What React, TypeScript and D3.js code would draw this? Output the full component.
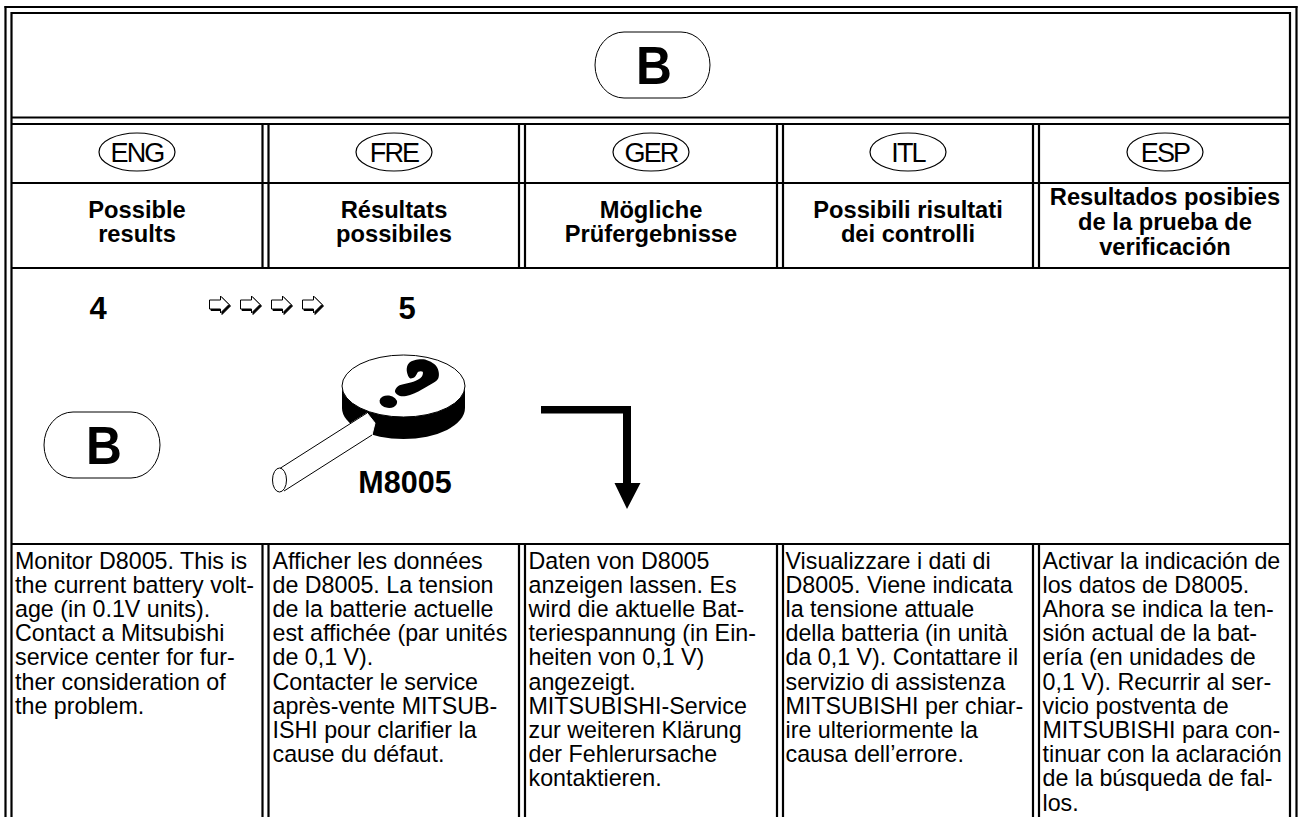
import React from "react";
import * as d3 from "d3";

const WIDTH = 1299;
const HEIGHT = 817;
const FONT = "'Liberation Sans', Arial, sans-serif";

const languages = ["ENG", "FRE", "GER", "ITL", "ESP"];
const headings = [
  ["Possible", "results"],
  ["Résultats", "possibiles"],
  ["Mögliche", "Prüfergebnisse"],
  ["Possibili risultati", "dei controlli"],
  ["Resultados posibies", "de la prueba de", "verificación"],
];
const bodies = [
  ["Monitor D8005. This is", "the current battery volt-", "age (in 0.1V units).", "Contact a Mitsubishi", "service center for fur-", "ther consideration of", "the problem."],
  ["Afficher les données", "de D8005. La tension", "de la batterie actuelle", "est affichée (par unités", "de 0,1 V).", "Contacter le service", "après-vente MITSUB-", "ISHI pour clarifier la", "cause du défaut."],
  ["Daten von D8005", "anzeigen lassen. Es", "wird die aktuelle Bat-", "teriespannung (in Ein-", "heiten von 0,1 V)", "angezeigt.", "MITSUBISHI-Service", "zur weiteren Klärung", "der Fehlerursache", "kontaktieren."],
  ["Visualizzare i dati di", "D8005. Viene indicata", "la tensione attuale", "della batteria (in unità", "da 0,1 V). Contattare il", "servizio di assistenza", "MITSUBISHI per chiar-", "ire ulteriormente la", "causa dell’errore."],
  ["Activar la indicación de", "los datos de D8005.", "Ahora se indica la ten-", "sión actual de la bat-", "ería (en unidades de", "0,1 V). Recurrir al ser-", "vicio postventa de", "MITSUBISHI para con-", "tinuar con la aclaración", "de la búsqueda de fal-", "los."],
];
const columnCentres = [137, 394, 651, 908, 1165];
const columnTextLeft = [15, 272.5, 528.5, 785.5, 1042.5];
const doubleRuleX = [[262.5, 268.5], [519, 525], [777, 783], [1033, 1039]];
const arrowIndex = [0, 1, 2, 3];

const questionHook: [number, number][] = [[406.7, 370], [409.3, 362.7], [423.3, 359.3], [436.7, 366.7], [438.3, 378.3], [426.7, 386.7], [410, 395], [400, 396], [395, 391.7], [398.3, 386], [413.3, 381.7], [421.7, 376.7], [422.7, 371.7], [418.3, 371.7], [415, 376.7], [410, 378.3]];
const handleOutline: [number, number][] = [[279, 469], [367, 413], [375, 423], [372, 435], [284, 491]];
const elbowArrow: [number, number][] = [[541, 406], [631, 406], [631, 483], [640.5, 483], [627, 509], [614.5, 483], [623, 483], [623, 413.5], [541, 413.5]];
const smallArrow: [number, number][] = [[0, 4], [11, 4], [11, 0], [19.5, 8.5], [11, 17], [11, 13], [0, 13]];

const band = d3.scalePoint<string>().domain(languages).range([columnCentres[0], columnCentres[4]]);
const polygon = d3.line().curve(d3.curveLinearClosed);
const smooth = d3.line().curve(d3.curveCatmullRomClosed.alpha(0.5));

function H({ y, x1 = 11, x2 = 1290 }: { y: number; x1?: number; x2?: number }) {
  return <line x1={x1} x2={x2} y1={y} y2={y} stroke="#000" strokeWidth={2.2} />;
}
function V({ x, y1, y2 }: { x: number; y1: number; y2: number }) {
  return <line x1={x} x2={x} y1={y1} y2={y2} stroke="#000" strokeWidth={2.2} />;
}
function Pill({ x, y, w, h, rx, tx, by, label }: { x: number; y: number; w: number; h: number; rx: number; tx: number; by: number; label: string }) {
  return (
    <g>
      <rect x={x} y={y} width={w} height={h} rx={rx} ry={h / 2} fill="#fff" stroke="#000" strokeWidth={1} />
      <text transform={`translate(${tx},${by}) scale(0.92,1)`} textAnchor="middle" fontFamily={FONT} fontWeight={700} fontSize={54}>{label}</text>
    </g>
  );
}

export default function App() {
  return (
    <svg width={WIDTH} height={HEIGHT} style={{ position: "absolute", left: 0, top: 0, background: "#fff" }}>
      <rect width={WIDTH} height={HEIGHT} fill="#fff" />
      <H y={7} x1={4.5} x2={1297.5} />
      <H y={13} />
      <H y={117.5} />
      <H y={124} />
      <H y={183} />
      <H y={268} />
      <H y={544} />
      <V x={5.5} y1={6} y2={817} />
      <V x={11.5} y1={12} y2={817} />
      <V x={1290} y1={12} y2={817} />
      <V x={1296.5} y1={6} y2={817} />
      {doubleRuleX.map((pair, i) =>
        pair.map((x) => (
          <g key={`${i}-${x}`}>
            <V x={x} y1={124} y2={268} />
            <V x={x} y1={544} y2={817} />
          </g>
        ))
      )}

      <Pill x={595} y={32} w={115} h={66} rx={29} tx={654} by={84} label="B" />

      {languages.map((l) => (
        <g key={l}>
          <ellipse cx={band(l)} cy={152} rx={38} ry={19} fill="#fff" stroke="#000" strokeWidth={1.2} />
          <text x={band(l)} y={162} textAnchor="middle" fontFamily={FONT} fontSize={27} letterSpacing={-1.8}>{l}</text>
        </g>
      ))}

      {headings.map((lines, i) => {
        const three = lines.length === 3;
        const y0 = three ? 205 : 218;
        const pitch = three ? 25 : 24;
        const x = columnCentres[i];
        return lines.map((t, j) => (
          <text key={t} x={x} y={y0 + j * pitch} textAnchor="middle" fontFamily={FONT} fontWeight={700} fontSize={23.7}>{t}</text>
        ));
      })}

      <text x={98} y={319} textAnchor="middle" fontFamily={FONT} fontWeight={700} fontSize={31}>4</text>
      <text x={407} y={319} textAnchor="middle" fontFamily={FONT} fontWeight={700} fontSize={31}>5</text>
      {arrowIndex.map((i) => (
        <g key={i} transform={`translate(${209.5 + i * 31},296)`}>
          <path d={polygon(smallArrow) as string} transform="translate(1.5,1.5)" fill="#000" stroke="#000" strokeWidth={1} />
          <path d={polygon(smallArrow) as string} fill="#fff" stroke="#000" strokeWidth={1} />
        </g>
      ))}

      <Pill x={44} y={412} w={116} h={66} rx={29} tx={104} by={464} label="B" />

      <path d="M342 386 L342 408 A61.5 31 0 0 0 465 408 L465 386 Z" fill="#000" />
      <ellipse cx={403.5} cy={386} rx={61.5} ry={31} fill="#fff" stroke="#000" strokeWidth={1} />
      <path d={smooth(questionHook) as string} fill="#000" />
      <ellipse cx={388.3} cy={401.7} rx={8.8} ry={6.2} fill="#000" transform="rotate(8 388.3 401.7)" />
      <path d={polygon(handleOutline) as string} fill="#fff" stroke="#fff" strokeWidth={1} />
      <line x1={handleOutline[0][0]} y1={handleOutline[0][1]} x2={handleOutline[1][0]} y2={handleOutline[1][1]} stroke="#000" strokeWidth={1} />
      <line x1={handleOutline[3][0]} y1={handleOutline[3][1]} x2={handleOutline[4][0]} y2={handleOutline[4][1]} stroke="#000" strokeWidth={1} />
      <ellipse cx={279.5} cy={480} rx={7} ry={12} fill="#fff" stroke="#000" strokeWidth={1} />
      <text x={405} y={493} textAnchor="middle" fontFamily={FONT} fontWeight={700} fontSize={30.5}>M8005</text>

      <path d={polygon(elbowArrow) as string} fill="#000" />

      {bodies.map((lines, i) =>
        lines.map((t, j) => (
          <text key={t} x={columnTextLeft[i]} y={568.5 + j * 24.2} fontFamily={FONT} fontSize={23.25}>{t}</text>
        ))
      )}
    </svg>
  );
}
